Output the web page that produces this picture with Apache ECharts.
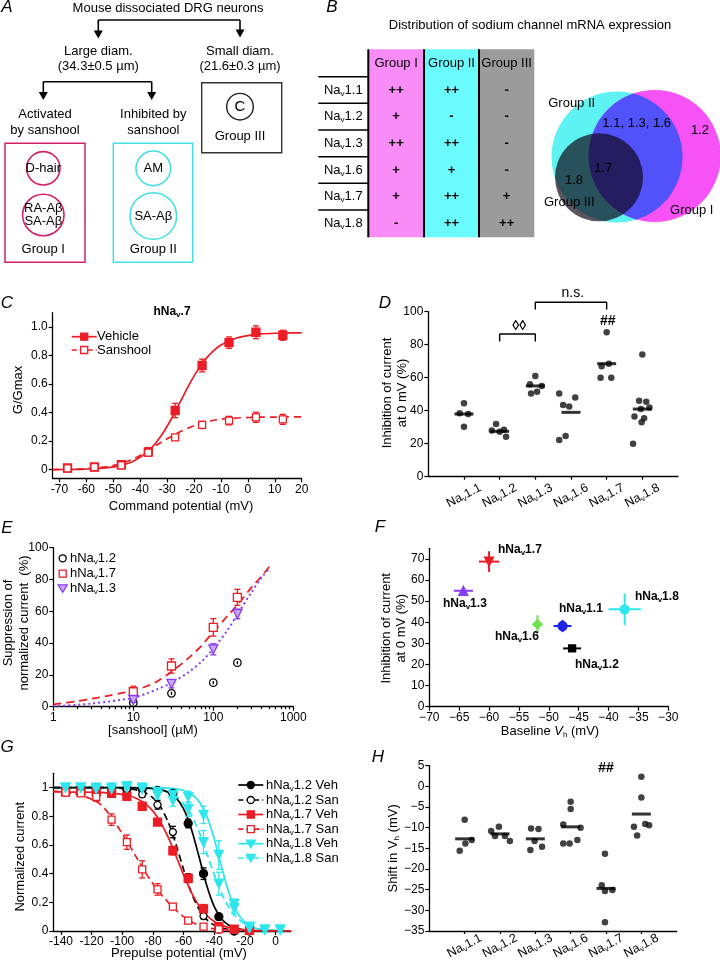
<!DOCTYPE html>
<html><head><meta charset="utf-8">
<script src="https://cdn.jsdelivr.net/npm/echarts@6/dist/echarts.min.js"></script>
<style>html,body{margin:0;padding:0;background:#fff}#c{width:720px;height:966px}</style>
</head><body><div id="c"></div>
<script>
const FONT = '"Liberation Sans", Arial, Helvetica, sans-serif';

// ---------- Panel B table ----------
const tableRows = ['1.1', '1.2', '1.3', '1.6', '1.7', '1.8'];
const tableCols = ['Group I', 'Group II', 'Group III'];
const tableCells = [['++', '++', '-'], ['+', '-', '-'], ['++', '++', '-'], ['+', '+', '-'], ['+', '++', '+'], ['-', '++', '++']];

// ---------- Panel C ----------
const cV = [-67, -57, -47, -37, -27, -17, -7, 3, 13];
const cVeh = [0.012, 0.019, 0.035, 0.125, 0.415, 0.73, 0.89, 0.963, 0.942];
const cVehErr = [0.015, 0.015, 0.025, 0.03, 0.05, 0.045, 0.04, 0.045, 0.035];
const cSan = [0.01, 0.018, 0.03, 0.12, 0.226, 0.314, 0.344, 0.367, 0.353];
const cSanErr = [0.01, 0.01, 0.02, 0.02, 0.02, 0.025, 0.03, 0.035, 0.035];
const cFitX = [-72.5, -67, -62, -57, -52, -47, -42, -37, -34, -31, -28, -25, -22, -19, -16, -13, -10, -5, 0, 5, 10, 15, 20];
const cVehFit = [0.001, 0.002, 0.003, 0.007, 0.015, 0.031, 0.065, 0.131, 0.192, 0.273, 0.371, 0.48, 0.589, 0.687, 0.768, 0.829, 0.873, 0.918, 0.94, 0.951, 0.956, 0.958, 0.959];
const cSanFit = [0.001, 0.003, 0.006, 0.012, 0.023, 0.044, 0.08, 0.134, 0.172, 0.206, 0.238, 0.268, 0.293, 0.315, 0.332, 0.345, 0.354, 0.362, 0.366, 0.368, 0.369, 0.37, 0.37];
const cXTicks = [-70, -60, -50, -40, -30, -20, -10, 0, 10, 20];
const cYTicks = [0, 0.2, 0.4, 0.6, 0.8, 1.0];

// ---------- Panel D ----------
const dCats = ['1.1', '1.2', '1.3', '1.6', '1.7', '1.8'];
const dVals = [[44.5, 38.5, 38, 30.3], [32, 28, 27.3, 28.5, 24.2], [61, 56, 55, 50.5, 51.5], [50.5, 48, 43.5, 42.5, 24.6, 22.2], [87.5, 67, 68.5, 60, 60], [74, 46, 45.5, 42, 41, 36.5, 35.5, 33, 20]];
const dJit = [[0, -0.12, 0.12, 0], [-0.1, -0.22, 0, 0.12, 0.18], [0, -0.15, 0.18, -0.12, 0.05], [-0.33, 0.12, -0.22, -0.05, -0.15, -0.33], [0, -0.14, 0.06, -0.17, 0.13], [0, -0.09, 0.11, 0.2, -0.04, -0.22, 0.05, -0.02, -0.26]];
const dMed = [38, 27.5, 55, 39, 68.5, 41];
const dBr1X = [1, 1, 2, 2], dBr1Y = [82, 86.5, 86.5, 82];
const dBr2X = [2, 2, 4, 4], dBr2Y = [101.3, 105.7, 105.7, 101.3];
const dNoteX = [1.55, 3.05, 4.03], dNoteY = [91, 111, 94.5], dNoteT = ['◊◊', 'n.s.', '##'];

// ---------- Panel E ----------
const eConc = [10, 30, 100, 200];
const e12 = [2.5, 8.4, 15.1, 27.7], e12Err = [1, 1, 1, 1];
const e17 = [9.4, 25.6, 49.9, 68.8], e17Err = [3.5, 4.5, 5.5, 5];
const e13 = [4.2, 14.3, 36.1, 58.3], e13Err = [1.5, 2.5, 3.5, 3];
const eFitX = [1, 2, 3, 5, 7, 10, 15, 20, 30, 50, 70, 100, 150, 200, 300, 400, 500];
const e17Fit = [1.5, 3.5, 5, 7, 8.5, 10, 13, 16, 22, 31, 38, 47, 57, 64, 75, 82, 88];
const e13Fit = [0.3, 1.2, 2, 3.3, 4.3, 5.5, 8.5, 11, 15, 22, 28, 36.5, 48, 58, 72, 81, 87];

// ---------- Panel F ----------
const fNames = ['1.7', '1.3', '1.6', '1.1', '1.2', '1.8'];
const fX = [-60, -64.3, -51.9, -47.7, -46.1, -37.3];
const fY = [68.7, 54.9, 39, 38.2, 27.6, 46.1];
const fXErr = [1.7, 1.6, 0.85, 1.5, 1.5, 2.7];
const fYErr = [4.9, 1, 4.3, 2.9, 0.8, 7.5];

// ---------- Panel G ----------
const gX = [-137, -127, -117, -107, -97, -87, -77, -67, -57, -47, -37, -27, -17, -7, 3];
const g12Veh = [null, 1.0, 1.0, 1.0, 0.99, 0.99, 0.98, 0.96, 0.75, 0.40, 0.10, 0.00, 0.00, null, null];
const g12VehErr = [null, 0.01, 0.01, 0.01, 0.02, 0.02, 0.02, 0.02, 0.03, 0.04, 0.02, 0.01, 0.01, null, null];
const g12San = [null, 1.0, 1.0, 1.0, 0.99, 0.953, 0.88, 0.69, 0.37, 0.104, 0.01, 0.0, null, null, null];
const g12SanErr = [null, 0.01, 0.01, 0.01, 0.02, 0.02, 0.03, 0.04, 0.03, 0.02, 0.01, 0.01, null, null, null];
const g17Veh = [0.97, 0.97, 0.97, 0.96, 0.94, 0.87, 0.76, 0.56, 0.367, 0.155, 0.03, 0.013, 0.005, null, null];
const g17VehErr = [0.02, 0.02, 0.02, 0.02, 0.02, 0.02, 0.02, 0.03, 0.03, 0.03, 0.01, 0.01, 0.01, null, null];
const g17San = [0.965, 0.96, 0.935, 0.777, 0.62, 0.43, 0.29, 0.17, 0.072, 0.03, 0.012, null, null, null, null];
const g17SanErr = [0.02, 0.02, 0.03, 0.04, 0.05, 0.06, 0.04, 0.02, 0.02, 0.01, 0.01, null, null, null, null];
const g18Veh = [1.0, 1.0, 1.0, 1.0, 1.01, 1.0, 0.97, 0.95, 0.935, 0.81, 0.53, 0.19, 0.03, 0.01, 0.01];
const g18VehErr = [0.02, 0.02, 0.02, 0.03, 0.03, 0.03, 0.03, 0.04, 0.04, 0.06, 0.1, 0.03, 0.02, 0.02, 0.02];
const g18San = [1.0, 1.0, 0.99, 0.99, 1.0, 0.99, 0.95, 0.91, 0.85, 0.62, 0.33, 0.16, 0.02, 0.01, 0.01];
const g18SanErr = [0.02, 0.02, 0.03, 0.03, 0.03, 0.03, 0.03, 0.04, 0.05, 0.08, 0.08, 0.04, 0.02, 0.02, 0.02];
const gFitX = [-145, -130, -115, -105, -95, -90, -85, -80, -75, -70, -65, -60, -55, -50, -45, -40, -35, -30, -25, -20, -15, -10, 0, 10];
const g12VehFit = [1, 1, 1, 1, 1, 0.999, 0.997, 0.994, 0.986, 0.968, 0.93, 0.852, 0.714, 0.521, 0.321, 0.17, 0.082, 0.037, 0.017, 0.007, 0.003, 0.001, 0, 0];
const g12SanFit = [1, 1, 1, 0.998, 0.991, 0.982, 0.964, 0.929, 0.865, 0.758, 0.606, 0.429, 0.269, 0.153, 0.081, 0.041, 0.021, 0.01, 0.005, 0.003, 0.001, 0, 0, 0];
const g17VehFit = [0.97, 0.969, 0.967, 0.96, 0.942, 0.921, 0.889, 0.836, 0.758, 0.653, 0.525, 0.392, 0.272, 0.177, 0.11, 0.066, 0.039, 0.023, 0.013, 0.008, 0.004, 0.003, 0.001, 0];
const g17SanFit = [0.975, 0.955, 0.89, 0.76, 0.59, 0.5, 0.41, 0.33, 0.26, 0.2, 0.145, 0.1, 0.065, 0.04, 0.025, 0.015, 0.01, 0.006, 0.004, 0.002, 0.001, 0.001, 0, 0];
const g18VehFit = [1, 1, 1, 1, 1, 1, 1, 0.999, 0.998, 0.996, 0.991, 0.98, 0.956, 0.905, 0.805, 0.642, 0.438, 0.253, 0.128, 0.06, 0.027, 0.012, 0.002, 0];
const g18SanFit = [1, 1, 1, 1, 0.998, 0.997, 0.994, 0.99, 0.981, 0.965, 0.936, 0.887, 0.809, 0.693, 0.547, 0.392, 0.257, 0.156, 0.09, 0.05, 0.028, 0.015, 0.004, 0.001];
const gXTicks = [-140, -120, -100, -80, -60, -40, -20, 0];
const gYTicks = [0, 0.2, 0.4, 0.6, 0.8, 1];

// ---------- Panel H ----------
const hVals = [[-8.1, -13.8, -13, -15.6], [-10.8, -12, -9.8, -12, -13.2], [-10.2, -10.3, -13.2, -15.4, -14.6], [-3.7, -5.5, -9.2, -13.8, -13.8, -13, -10], [-16.3, -23.9, -25.3, -25.1, -32.9], [2.3, -2.7, -9.8, -9.1, -9.4, -11.9]];
const hJit = [[0, 0.02, 0.2, -0.14], [-0.25, -0.14, -0.03, 0.14, 0.28], [-0.12, 0.09, -0.02, -0.14, 0.19], [0, 0, -0.21, -0.21, -0.03, 0.19, 0.28], [-0.03, -0.12, -0.03, 0.18, -0.03], [0, 0, -0.21, 0.11, 0.22, -0.12]];
const hMed = [-12.7, -11.5, -12.7, -9.8, -24.7, -6.7];
const hNoteX = [4.0], hNoteY = [4.5], hNoteT = ['##'];

// ================= styles =================
const RED = '#ec1c24', PUR = '#8a3cf0', CYAN = '#2ee6ec', GREEN = '#6ce24c', BLUE = '#1f24e8';
const CRIM = '#d3206b', ACYAN = '#46dfe6';

function pairs(xs, ys) { return xs.map((x, i) => ys[i] == null ? null : [x, ys[i]]).filter(p => p); }
function subRich(size, extra) {
  const L = size + 2;
  return {
    n: Object.assign({ fontSize: size, lineHeight: L, fontFamily: FONT, color: '#000', fill: '#000' }, extra || {}),
    i: Object.assign({ fontSize: size, lineHeight: L, fontFamily: FONT, fontStyle: 'italic', color: '#000', fill: '#000' }, extra || {}),
    s: Object.assign({ fontSize: Math.round(size * 0.65), lineHeight: L - 0.68 * size, verticalAlign: 'bottom', fontFamily: FONT, color: '#000', fill: '#000' }, extra || {})
  };
}
function naStr(pre, suf) { return `{n|${pre}Na}{s|v}{n|${suf}}`; }

function axis(gi, type, min, max, ticks, fmt, o = {}) {
  const a = {
    type, gridIndex: gi, min, max, position: o.position,
    axisLine: { show: o.noLine ? false : true, onZero: false, lineStyle: { color: '#000', width: 1.3 } },
    axisTick: { show: true, inside: false, length: o.tickLen || 4, customValues: ticks, lineStyle: { color: '#000', width: 1.2 } },
    axisLabel: { show: !o.noLabel, customValues: ticks, formatter: fmt, color: '#000', fontSize: o.fs || 12, fontFamily: FONT, margin: o.margin || 5, rotate: o.rotate || 0 },
    splitLine: { show: false }, minorTick: { show: false }, splitArea: { show: false }
  };
  if (type === 'log') a.logBase = 10;
  if (o.rich) a.axisLabel.rich = o.rich;
  if (o.align) { a.axisLabel.align = o.align; a.axisLabel.verticalAlign = 'middle'; }
  return a;
}
const minusFmt = v => String(v).replace('-', '\u2212');
const plainFmt = v => String(v);

const grids = [
  { left: 52.7, top: 312.7, width: 249, height: 165.6 },   // C
  { left: 428.3, top: 311.7, width: 249.7, height: 165 },  // D
  { left: 53.3, top: 547.7, width: 240, height: 159 },     // E
  { left: 429.3, top: 548.3, width: 239, height: 158.4 },  // F
  { left: 53.3, top: 773.3, width: 237.6, height: 157.7 }, // G
  { left: 429.3, top: 765.7, width: 247.4, height: 165.3 } // H
];
const catRich = subRich(12.5);
const xAxes = [
  axis(0, 'value', -72.5, 20, cXTicks, plainFmt, { position: 'bottom' }),
  axis(1, 'value', -1, 6, [0, 1, 2, 3, 4, 5], v => naStr('', dCats[v]), { position: 'bottom', rotate: 28, rich: catRich, margin: 19, align: 'center', tickLen: 3 }),
  axis(2, 'log', 1, 1000, [1, 10, 100, 1000], plainFmt, { position: 'bottom' }),
  axis(3, 'value', -70, -30, [-70, -65, -60, -55, -50, -45, -40, -35, -30], minusFmt, { position: 'bottom' }),
  axis(4, 'value', -145, 10, gXTicks, plainFmt, { position: 'bottom' }),
  axis(5, 'value', -1, 6, [0, 1, 2, 3, 4, 5], v => naStr('', dCats[v]), { position: 'bottom', rotate: 28, rich: catRich, margin: 15, align: 'center', tickLen: 3 }),
  axis(2, 'log', 1, 1000, [2, 3, 4, 5, 6, 7, 8, 9, 20, 30, 40, 50, 60, 70, 80, 90, 200, 300, 400, 500, 600, 700, 800, 900], plainFmt, { position: 'bottom', noLine: true, noLabel: true, tickLen: 2.5 })
];
const yAxes = [
  axis(0, 'value', -0.06, 1.1, cYTicks, v => v === 0 ? '0' : v.toFixed(1)),
  axis(1, 'value', 0, 100, [0, 20, 40, 60, 80, 100], plainFmt),
  axis(2, 'value', 0, 100, [0, 20, 40, 60, 80, 100], plainFmt),
  axis(3, 'value', 0, 75, [0, 10, 20, 30, 40, 50, 60, 70], plainFmt),
  axis(4, 'value', 0, 1.1, gYTicks, v => (v === 0 || v === 1) ? String(v) : v.toFixed(1)),
  axis(5, 'value', -35, 5, [-35, -30, -25, -20, -15, -10, -5, 0, 5], minusFmt)
];

const series = [];
function lineS(gi, xs, ys, color, type, width) {
  return { type: 'line', xAxisIndex: gi, yAxisIndex: gi, data: pairs(xs, ys), showSymbol: false, symbol: 'none', smooth: 0.3, silent: true, animation: false, z: 2,
    lineStyle: { color, width: width || 1.6, type: type || 'solid' } };
}
function scatS(gi, xs, ys, sym, size, fill, stroke, rot) {
  return { type: 'scatter', xAxisIndex: gi, yAxisIndex: gi, data: pairs(xs, ys), symbol: sym, symbolSize: size, symbolRotate: rot || 0, silent: true, z: 4,
    itemStyle: { color: fill, borderColor: stroke, borderWidth: 1.3, opacity: 1 } };
}
function errS(gi, xs, ys, es, color, cap) {
  const data = xs.map((x, i) => (ys[i] == null || es[i] == null) ? null : [x, ys[i], es[i]]).filter(p => p);
  return { type: 'custom', xAxisIndex: gi, yAxisIndex: gi, data, silent: true, z: 3,
    renderItem: (p, api) => {
      const x = api.value(0), y = api.value(1), e = api.value(2);
      const a = api.coord([x, y - e]), b = api.coord([x, y + e]);
      const st = { stroke: color, lineWidth: 1.3 };
      return { type: 'group', children: [
        { type: 'line', shape: { x1: a[0], y1: a[1], x2: b[0], y2: b[1] }, style: st },
        { type: 'line', shape: { x1: a[0] - cap, y1: a[1], x2: a[0] + cap, y2: a[1] }, style: st },
        { type: 'line', shape: { x1: b[0] - cap, y1: b[1], x2: b[0] + cap, y2: b[1] }, style: st }
      ] };
    } };
}

// C
series.push(lineS(0, cFitX, cVehFit, RED, 'solid', 1.7));
series.push(lineS(0, cFitX, cSanFit, RED, [7, 5], 1.7));
series.push(errS(0, cV, cVeh, cVehErr, RED, 3));
series.push(errS(0, cV, cSan, cSanErr, RED, 3));
series.push(scatS(0, cV, cVeh, 'rect', 8, RED, RED));
series.push(scatS(0, cV, cSan, 'rect', 7, '#fff', RED));

// D
dVals.forEach((vals, ci) => {
  series.push({ type: 'scatter', xAxisIndex: 1, yAxisIndex: 1, symbol: 'circle', symbolSize: 6.5, silent: true, z: 4,
    itemStyle: { color: '#111' }, data: vals.map((v, k) => [ci + dJit[ci][k], v]) });
});
series.push({ type: 'scatter', xAxisIndex: 1, yAxisIndex: 1, symbol: 'rect', symbolSize: [19, 3], silent: true, z: 5,
  itemStyle: { color: '#000' }, data: dMed.map((v, i) => [i, v]) });
series.push(Object.assign(lineS(1, dBr1X, dBr1Y, '#000', 'solid', 1.4), { smooth: false, clip: false }));
series.push(Object.assign(lineS(1, dBr2X, dBr2Y, '#000', 'solid', 1.4), { smooth: false, clip: false }));

// E
series.push(lineS(2, eFitX, e17Fit, RED, [8, 5], 1.8));
series.push(lineS(2, eFitX, e13Fit, PUR, [2, 3], 2));
series.push(errS(2, eConc, e17, e17Err, RED, 3));
series.push(errS(2, eConc, e13, e13Err, PUR, 3));
series.push(errS(2, eConc, e12, e12Err, '#000', 0));
series.push(scatS(2, eConc, e12, 'circle', 7.5, 'rgba(255,255,255,0)', '#000'));
series.push(scatS(2, eConc, e17, 'rect', 8, '#fff', RED));
series.push(scatS(2, eConc, e13, 'triangle', 9, '#c9a9ff', PUR, 180));

// F
const fColors = [RED, PUR, GREEN, BLUE, '#000', CYAN];
const fSyms = ['triangle', 'triangle', 'diamond', 'circle', 'rect', 'circle'];
const fRot = [180, 0, 0, 0, 0, 0];
fX.forEach((x, i) => {
  series.push({ type: 'custom', xAxisIndex: 3, yAxisIndex: 3, silent: true, z: 3, data: [[x, fY[i], fXErr[i], fYErr[i]]],
    renderItem: (p, api) => {
      const vx = api.value(0), vy = api.value(1), ex = api.value(2), ey = api.value(3);
      const l = api.coord([vx - ex, vy]), r = api.coord([vx + ex, vy]), t = api.coord([vx, vy + ey]), b = api.coord([vx, vy - ey]);
      const st = { stroke: fColors[i], lineWidth: 2 };
      return { type: 'group', children: [
        { type: 'line', shape: { x1: l[0], y1: l[1], x2: r[0], y2: r[1] }, style: st },
        { type: 'line', shape: { x1: t[0], y1: t[1], x2: b[0], y2: b[1] }, style: st }] };
    } });
  series.push(scatS(3, [x], [fY[i]], fSyms[i], i === 4 ? 7 : 9, fColors[i], fColors[i], fRot[i]));
});

// G
series.push(lineS(4, gFitX, g18VehFit, CYAN, 'solid', 1.8));
series.push(lineS(4, gFitX, g18SanFit, CYAN, [7, 4], 1.8));
series.push(lineS(4, gFitX, g12VehFit, '#000', 'solid', 1.7));
series.push(lineS(4, gFitX, g12SanFit, '#000', [7, 4], 1.7));
series.push(lineS(4, gFitX, g17VehFit, RED, 'solid', 1.7));
series.push(lineS(4, gFitX, g17SanFit, RED, [7, 4], 1.7));
series.push(errS(4, gX, g12Veh, g12VehErr, '#000', 3));
series.push(errS(4, gX, g12San, g12SanErr, '#000', 3));
series.push(errS(4, gX, g17Veh, g17VehErr, RED, 3));
series.push(errS(4, gX, g17San, g17SanErr, RED, 3));
series.push(errS(4, gX, g18Veh, g18VehErr, CYAN, 3));
series.push(errS(4, gX, g18San, g18SanErr, CYAN, 3));
series.push(scatS(4, gX, g12Veh, 'circle', 8, '#000', '#000'));
series.push(scatS(4, gX, g12San, 'circle', 7, '#fff', '#000'));
series.push(scatS(4, gX, g17Veh, 'rect', 8, RED, RED));
series.push(scatS(4, gX, g17San, 'rect', 7, '#fff', RED));
series.push(scatS(4, gX, g18Veh, 'triangle', 9, CYAN, CYAN, 180));
series.push(scatS(4, gX, g18San, 'triangle', 9, CYAN, CYAN, 180));

// H
hVals.forEach((vals, ci) => {
  series.push({ type: 'scatter', xAxisIndex: 5, yAxisIndex: 5, symbol: 'circle', symbolSize: 6.5, silent: true, z: 4,
    itemStyle: { color: '#111' }, data: vals.map((v, k) => [ci + hJit[ci][k], v]) });
});
series.push({ type: 'scatter', xAxisIndex: 5, yAxisIndex: 5, symbol: 'rect', symbolSize: [19, 3], silent: true, z: 5,
  itemStyle: { color: '#000' }, data: hMed.map((v, i) => [i, v]) });

// ================= graphics =================
const G = [];
function T(x, y, text, o = {}) {
  const font = [o.style || '', o.weight || '', (o.size || 13) + 'px', FONT].filter(s => s).join(' ');
  const st = { text, fill: o.color || '#000', font, textAlign: o.align || 'center', textVerticalAlign: o.va || 'middle', align: o.align || 'center', verticalAlign: o.va || 'middle' };
  if (o.rich) st.rich = o.rich;
  if (o.lh) st.lineHeight = o.lh;
  G.push({ type: 'text', x, y, rotation: o.rot || 0, z: 50, silent: true, style: st });
}
function L(x1, y1, x2, y2, color, w, dash) { G.push({ type: 'line', z: 40, silent: true, shape: { x1, y1, x2, y2 }, style: { stroke: color || '#000', lineWidth: w || 1.5, lineDash: dash || null } }); }
function R(x, y, w, h, fill, stroke, lw) { G.push({ type: 'rect', z: 30, silent: true, shape: { x, y, width: w, height: h }, style: { fill: fill || 'none', stroke: stroke || 'none', lineWidth: lw || 1 } }); }
function Ci(cx, cy, r, fill, stroke, lw, z) { G.push({ type: 'circle', z: z || 35, silent: true, shape: { cx, cy, r }, style: { fill: fill || 'none', stroke: stroke || 'none', lineWidth: lw || 1.5 } }); }
function P(points, fill, stroke, lw, z) { G.push({ type: 'polygon', z: z || 41, silent: true, shape: { points }, style: { fill: fill || 'none', stroke: stroke || 'none', lineWidth: lw || 1 } }); }
function arrowDown(x, y1, tip) { L(x, y1, x, tip - 6, '#000', 1.6); P([[x - 4.5, tip - 8], [x + 4.5, tip - 8], [x, tip]], '#000'); }
function marker(sym, cx, cy, fill, stroke) {
  if (sym === 'circle') Ci(cx, cy, 3.5, fill, stroke, 1.3, 45);
  else if (sym === 'rect') G.push({ type: 'rect', z: 45, silent: true, shape: { x: cx - 3.5, y: cy - 3.5, width: 7, height: 7 }, style: { fill, stroke, lineWidth: 1.3 } });
  else if (sym === 'tri') P([[cx - 4.5, cy - 3.5], [cx + 4.5, cy - 3.5], [cx, cy + 4]], fill, stroke, 1.3, 45);
}

// Panel letters
[['A', 7, 7], ['B', 332, 7], ['C', 7, 303], ['D', 385, 303], ['E', 7, 528], ['F', 380, 527], ['G', 7, 747], ['H', 378, 757]]
  .forEach(([t, x, y]) => T(x, y, t, { style: 'italic', size: 17 }));

// ----- Panel A -----
T(168, 8.5, 'Mouse dissociated DRG neurons');
L(98.3, 20, 240, 20, '#000', 1.6);
arrowDown(98.3, 20, 38.5); arrowDown(240, 20, 37.5);
T(98.3, 51.7, 'Large diam.'); T(98.3, 66.7, '(34.3±0.5 µm)');
T(240, 51.7, 'Small diam.'); T(240, 66.7, '(21.6±0.3 µm)');
R(201.7, 82.7, 80, 70, 'none', '#333', 1.4);
Ci(240, 106.7, 13.3, 'none', '#222', 1.4);
T(240, 107, 'C', { size: 15 });
T(240, 136, 'Group III');
L(43.3, 81.7, 151.7, 81.7, '#000', 1.6);
arrowDown(43.3, 81.7, 100); arrowDown(151.7, 81.7, 100);
T(45, 114.3, 'Activated'); T(45, 130, 'by sanshool');
T(153.3, 114.3, 'Inhibited by'); T(153.3, 130, 'sanshool');
R(5, 143.3, 80, 119, 'none', CRIM, 1.5);
R(113.3, 143.3, 79.4, 119, 'none', ACYAN, 1.5);
Ci(43.3, 168.3, 16.7, 'none', CRIM, 1.6); Ci(43.3, 215, 20.7, 'none', CRIM, 1.6);
Ci(153.3, 168.3, 17.3, 'none', ACYAN, 1.6); Ci(153.3, 216, 23.3, 'none', ACYAN, 1.6);
T(43.3, 168.3, 'D-hair'); T(43.3, 208.3, 'RA-Aβ'); T(43.3, 221.7, 'SA-Aβ');
T(153.3, 168.3, 'AM'); T(153.3, 216, 'SA-Aβ');
T(43.3, 249.3, 'Group I'); T(153.3, 249.3, 'Group II');

// ----- Panel B -----
T(530, 25, 'Distribution of sodium channel mRNA expression');
const colX = [318.3, 368.3, 424, 479, 534.3];
const rowY = [49.3, 76.7, 103.3, 130, 156.7, 183.3, 210, 237.3];
const colFill = ['#fa8cf8', '#6afcfc', '#9b9b9b'];
colFill.forEach((f, i) => R(colX[i + 1], rowY[0], colX[i + 2] - colX[i + 1], rowY[7] - rowY[0], f, 'none'));
[1, 2, 3].forEach(i => L(colX[i], rowY[0], colX[i], rowY[7], '#000', 2));
for (let r = 1; r <= 6; r++) L(colX[0], rowY[r], colX[1], rowY[r], '#000', 1.6);
tableCols.forEach((c, i) => T((colX[i + 1] + colX[i + 2]) / 2, 63, c));
const tRich = subRich(13);
tableRows.forEach((rname, r) => {
  const cy = (rowY[r + 1] + rowY[r + 2]) / 2;
  T((colX[0] + colX[1]) / 2, cy, naStr('', rname), { rich: tRich });
  tableCells[r].forEach((v, c) => T((colX[c + 1] + colX[c + 2]) / 2, cy, v, { weight: 'bold' }));
});
// Venn diagram (geometry of the two group circles)
const v1 = [617, 157, 65.5], v2 = [654.7, 156, 66];
Ci(v1[0], v1[1], v1[2], '#5ef2f2', 'none', 0, 31);
Ci(v2[0], v2[1], v2[2], '#f652f6', 'none', 0, 32);
(function lens() {
  const dx = v2[0] - v1[0], dy = v2[1] - v1[1], d = Math.hypot(dx, dy);
  const a = (v1[2] * v1[2] - v2[2] * v2[2] + d * d) / (2 * d), h = Math.sqrt(v1[2] * v1[2] - a * a);
  const mx = v1[0] + a * dx / d, my = v1[1] + a * dy / d;
  const p1 = [mx - h * dy / d, my + h * dx / d], p2 = [mx + h * dy / d, my - h * dx / d];
  const top = p1[1] < p2[1] ? p1 : p2, bot = p1[1] < p2[1] ? p2 : p1;
  const pts = [];
  const a1s = Math.atan2(top[1] - v1[1], top[0] - v1[0]), a1e = Math.atan2(bot[1] - v1[1], bot[0] - v1[0]);
  for (let k = 0; k <= 40; k++) { const t = a1s + (a1e - a1s) * k / 40; pts.push([v1[0] + v1[2] * Math.cos(t), v1[1] + v1[2] * Math.sin(t)]); }
  let a2s = Math.atan2(bot[1] - v2[1], bot[0] - v2[0]), a2e = Math.atan2(top[1] - v2[1], top[0] - v2[0]);
  if (a2e < a2s) a2e += 2 * Math.PI;
  for (let k = 0; k <= 40; k++) { const t = a2s + (a2e - a2s) * k / 40; pts.push([v2[0] + v2[2] * Math.cos(t), v2[1] + v2[2] * Math.sin(t)]); }
  P(pts, '#5252fa', 'none', 0, 33);
})();
Ci(599, 177.3, 44, 'rgba(15,5,20,0.68)', 'none', 0, 34);
T(571.7, 103.3, 'Group II');
T(636.7, 123.3, '1.1, 1.3, 1.6');
T(700, 130, '1.2');
T(603.3, 168.3, '1.7');
T(574, 180.7, '1.8');
T(569.3, 202.7, 'Group III');
T(691.7, 210.7, 'Group I');

// ----- Panel C texts -----
T(172, 311.7, '{b|hNa}{bs|v}{b|.7}', { rich: { b: { fontSize: 12, lineHeight: 14, fontWeight: 'bold', fontFamily: FONT, fill: '#000' }, bs: { fontSize: 8, lineHeight: 6, verticalAlign: 'bottom', fontWeight: 'bold', fontFamily: FONT, fill: '#000' } } });
L(71.7, 336.7, 96.7, 336.7, RED, 1.7); marker('rect', 84.2, 336.7, RED, RED);
T(97, 336.7, 'Vehicle', { align: 'left' });
L(71.7, 350, 96.7, 350, RED, 1.7, [5, 3]); marker('rect', 84.2, 350, '#fff', RED);
T(97, 350, 'Sanshool', { align: 'left' });
T(18, 390, 'G/Gmax', { rot: Math.PI / 2 });
T(181, 506.7, 'Command potential (mV)');

// ----- Panel D texts -----
T(395, 393, 'Inhibition of current\nat 0 mV (%)', { rot: Math.PI / 2, lh: 15 });

// ----- Panel E texts -----
const legRich = subRich(13);
marker('circle', 62.7, 558.3, 'rgba(255,255,255,0)', '#000');
T(70, 558.3, naStr('h', '1.2'), { align: 'left', rich: legRich });
marker('rect', 62.7, 573.7, '#fff', RED);
T(70, 573.7, naStr('h', '1.7'), { align: 'left', rich: legRich });
marker('tri', 62.7, 588.3, '#c9a9ff', PUR);
T(70, 588.3, naStr('h', '1.3'), { align: 'left', rich: legRich });
T(16, 623, 'Suppression of\nnormalized current  (%)', { rot: Math.PI / 2, lh: 16 });
T(153, 730, '[sanshool] (µM)');

// ----- Panel F texts -----
const fLab = [[498, 549.5], [443, 604], [495, 637], [559, 608.5], [575, 665], [635, 597]];
fNames.forEach((n, i) => T(fLab[i][0], fLab[i][1], naStr('h', n), { align: 'left', rich: subRich(12, { fontWeight: 'bold' }) }));
T(394, 628.3, 'Inhibition of current\nat 0 mV (%)', { rot: Math.PI / 2, lh: 15 });
T(550, 731.7, 'Baseline {i|V}{s|h} (mV)', { rich: subRich(13) });

// ----- Panel G texts -----
const gLeg = [['1.2 Veh', '#000', 'circle', '#000', null], ['1.2 San', '#000', 'circle', '#fff', [5, 3]], ['1.7 Veh', RED, 'rect', RED, null],
  ['1.7 San', RED, 'rect', '#fff', [5, 3]], ['1.8 Veh', CYAN, 'tri', CYAN, null], ['1.8 San', CYAN, 'tri', CYAN, [5, 3]]];
const gLegY = [785, 800, 814.5, 829.2, 843.7, 858];
gLeg.forEach((e, i) => {
  const y = gLegY[i];
  L(238.3, y, 263.3, y, e[1], 1.7, e[4]);
  marker(e[2], 250.8, y, e[3], e[1]);
  const parts = e[0].split(' ');
  T(266, y, naStr('h', parts[0]) + `{n| ${parts[1]}}`, { align: 'left', rich: legRich });
});
T(20, 856.7, 'Normalized current', { rot: Math.PI / 2 });
T(179, 953.3, 'Prepulse potential (mV)');

// ----- Panel H texts -----
T(393.3, 848.3, 'Shift in {n|V}{s|h} (mV)', { rot: Math.PI / 2, rich: subRich(13) });

const option = {
  animation: false,
  backgroundColor: '#fff',
  textStyle: { fontFamily: FONT },
  grid: grids,
  xAxis: xAxes,
  yAxis: yAxes,
  series,
  graphic: { elements: G }
};
const chart = echarts.init(document.getElementById('c'), null, { renderer: 'canvas', width: 720, height: 966 });
chart.setOption(option);

// significance annotations placed through the axes' own scales
function addNotes(xi, xs, ys, texts) {
  xs.forEach((x, i) => {
    const p = chart.convertToPixel({ xAxisIndex: xi, yAxisIndex: xi }, [x, ys[i]]);
    T(p[0], p[1], texts[i], { size: 14, weight: texts[i] === 'n.s.' ? '' : 'bold' });
  });
}
addNotes(1, dNoteX, dNoteY, dNoteT);
addNotes(5, hNoteX, hNoteY, hNoteT);
chart.setOption({ graphic: { elements: G } });
</script></body></html>
